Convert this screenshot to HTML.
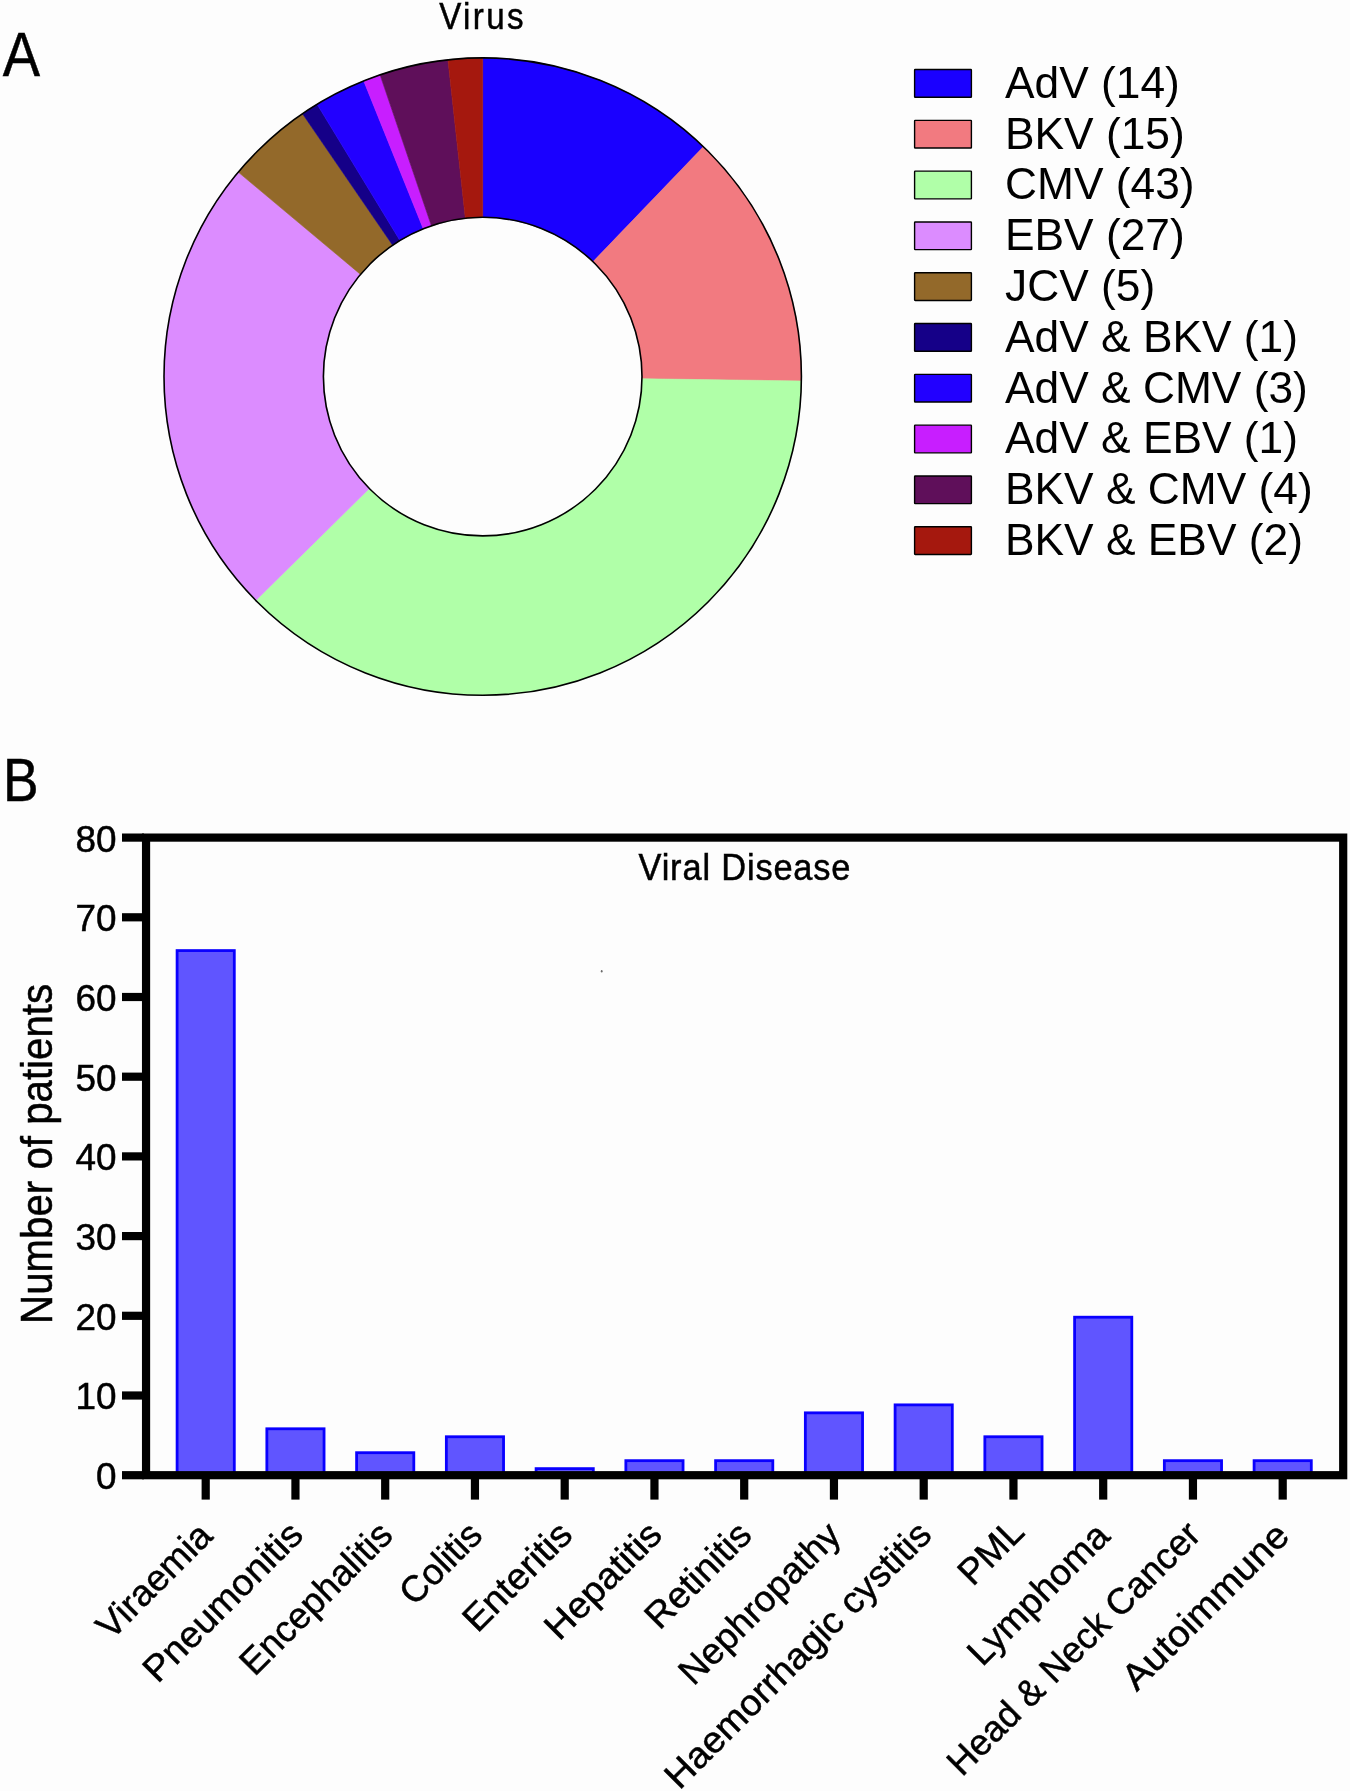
<!DOCTYPE html>
<html><head><meta charset="utf-8"><style>
html,body{margin:0;padding:0;background:#fdfdfd;}
svg{display:block;will-change:transform;}
.a{font-family:"Liberation Sans",sans-serif;}
.c{font-family:"Liberation Sans",sans-serif;stroke:#000;stroke-width:0.5px;}
</style></head><body>
<svg width="1350" height="1791" viewBox="0 0 1350 1791">
<rect width="1350" height="1791" fill="#fdfdfd"/>
<text class="c" font-size="36.8" textLength="93.78" lengthAdjust="spacing" transform="translate(439.2,29.3) scale(0.9,1)">Virus</text>
<text class="c" font-size="63" transform="translate(2.7,76.4) scale(0.888,1)">A</text>
<text class="c" font-size="61.3" transform="translate(3.0,801.1) scale(0.87,1)" >B</text>
<path d="M482.70,57.90A318.7,318.7 0 0 1 703.39,146.68L593.01,261.67A159.3,159.3 0 0 0 482.70,217.30Z" fill="#1a00ff" stroke="#1a00ff" stroke-width="0.6"/>
<path d="M703.39,146.68A318.7,318.7 0 0 1 801.37,380.95L641.99,378.78A159.3,159.3 0 0 0 593.01,261.67Z" fill="#f27a80" stroke="#f27a80" stroke-width="0.6"/>
<path d="M801.37,380.95A318.7,318.7 0 0 1 255.81,600.41L369.29,488.47A159.3,159.3 0 0 0 641.99,378.78Z" fill="#b0ffa8" stroke="#b0ffa8" stroke-width="0.6"/>
<path d="M255.81,600.41A318.7,318.7 0 0 1 238.25,172.11L360.51,274.39A159.3,159.3 0 0 0 369.29,488.47Z" fill="#dc8cff" stroke="#dc8cff" stroke-width="0.6"/>
<path d="M238.25,172.11A318.7,318.7 0 0 1 302.49,113.75L392.62,245.21A159.3,159.3 0 0 0 360.51,274.39Z" fill="#93692a" stroke="#93692a" stroke-width="0.6"/>
<path d="M302.49,113.75A318.7,318.7 0 0 1 317.11,104.30L399.93,240.49A159.3,159.3 0 0 0 392.62,245.21Z" fill="#150088" stroke="#150088" stroke-width="0.6"/>
<path d="M317.11,104.30A318.7,318.7 0 0 1 363.76,80.93L423.25,228.81A159.3,159.3 0 0 0 399.93,240.49Z" fill="#2200ff" stroke="#2200ff" stroke-width="0.6"/>
<path d="M363.76,80.93A318.7,318.7 0 0 1 380.09,74.87L431.41,225.78A159.3,159.3 0 0 0 423.25,228.81Z" fill="#c81eff" stroke="#c81eff" stroke-width="0.6"/>
<path d="M380.09,74.87A318.7,318.7 0 0 1 447.94,59.80L465.33,218.25A159.3,159.3 0 0 0 431.41,225.78Z" fill="#5f0f5a" stroke="#5f0f5a" stroke-width="0.6"/>
<path d="M447.94,59.80A318.7,318.7 0 0 1 482.70,57.90L482.70,217.30A159.3,159.3 0 0 0 465.33,218.25Z" fill="#a5180e" stroke="#a5180e" stroke-width="0.6"/>
<circle cx="482.7" cy="376.6" r="318.7" fill="none" stroke="#000" stroke-width="1.6"/>
<circle cx="482.7" cy="376.6" r="159.3" fill="none" stroke="#000" stroke-width="1.6"/>
<rect x="914.6" y="69.55" width="56.8" height="27.7" rx="0.6" fill="#1a00ff" stroke="#000" stroke-width="1.4"/>
<text x="1005" y="97.70" font-size="44.3" class="a">AdV (14)</text>
<rect x="914.6" y="120.35" width="56.8" height="27.7" rx="0.6" fill="#f27a80" stroke="#000" stroke-width="1.4"/>
<text x="1005" y="148.50" font-size="44.3" class="a">BKV (15)</text>
<rect x="914.6" y="171.15" width="56.8" height="27.7" rx="0.6" fill="#b0ffa8" stroke="#000" stroke-width="1.4"/>
<text x="1005" y="199.30" font-size="44.3" class="a">CMV (43)</text>
<rect x="914.6" y="221.95" width="56.8" height="27.7" rx="0.6" fill="#dc8cff" stroke="#000" stroke-width="1.4"/>
<text x="1005" y="250.10" font-size="44.3" class="a">EBV (27)</text>
<rect x="914.6" y="272.75" width="56.8" height="27.7" rx="0.6" fill="#93692a" stroke="#000" stroke-width="1.4"/>
<text x="1005" y="300.90" font-size="44.3" class="a">JCV (5)</text>
<rect x="914.6" y="323.55" width="56.8" height="27.7" rx="0.6" fill="#150088" stroke="#000" stroke-width="1.4"/>
<text x="1005" y="351.70" font-size="44.3" class="a">AdV &amp; BKV (1)</text>
<rect x="914.6" y="374.35" width="56.8" height="27.7" rx="0.6" fill="#2200ff" stroke="#000" stroke-width="1.4"/>
<text x="1005" y="402.50" font-size="44.3" class="a">AdV &amp; CMV (3)</text>
<rect x="914.6" y="425.15" width="56.8" height="27.7" rx="0.6" fill="#c81eff" stroke="#000" stroke-width="1.4"/>
<text x="1005" y="453.30" font-size="44.3" class="a">AdV &amp; EBV (1)</text>
<rect x="914.6" y="475.95" width="56.8" height="27.7" rx="0.6" fill="#5f0f5a" stroke="#000" stroke-width="1.4"/>
<text x="1005" y="504.10" font-size="44.3" class="a">BKV &amp; CMV (4)</text>
<rect x="914.6" y="526.75" width="56.8" height="27.7" rx="0.6" fill="#a5180e" stroke="#000" stroke-width="1.4"/>
<text x="1005" y="554.90" font-size="44.3" class="a">BKV &amp; EBV (2)</text>
<rect x="177.10" y="950.58" width="57.20" height="525.02" fill="#6055ff" stroke="#0a00ff" stroke-width="2.8"/>
<rect x="201.60" y="1475" width="8.2" height="24.6" fill="#000"/>
<text class="c" font-size="36.8" text-anchor="end" textLength="145.84" lengthAdjust="spacingAndGlyphs" transform="translate(214.33,1537.87) rotate(-45)">Viraemia</text>
<rect x="266.85" y="1428.78" width="57.20" height="46.82" fill="#6055ff" stroke="#0a00ff" stroke-width="2.8"/>
<rect x="291.35" y="1475" width="8.2" height="24.6" fill="#000"/>
<text class="c" font-size="36.8" text-anchor="end" textLength="208.35" lengthAdjust="spacingAndGlyphs" transform="translate(305.07,1536.88) rotate(-45)">Pneumonitis</text>
<rect x="356.60" y="1452.69" width="57.20" height="22.91" fill="#6055ff" stroke="#0a00ff" stroke-width="2.8"/>
<rect x="381.10" y="1475" width="8.2" height="24.6" fill="#000"/>
<text class="c" font-size="36.8" text-anchor="end" textLength="198.32" lengthAdjust="spacingAndGlyphs" transform="translate(394.68,1537.02) rotate(-45)">Encephalitis</text>
<rect x="446.35" y="1436.75" width="57.20" height="38.85" fill="#6055ff" stroke="#0a00ff" stroke-width="2.8"/>
<rect x="470.85" y="1475" width="8.2" height="24.6" fill="#000"/>
<text class="c" font-size="36.8" text-anchor="end" textLength="98.95" lengthAdjust="spacingAndGlyphs" transform="translate(484.29,1537.16) rotate(-45)">Colitis</text>
<rect x="536.10" y="1468.63" width="57.20" height="6.97" fill="#6055ff" stroke="#0a00ff" stroke-width="2.8"/>
<rect x="560.60" y="1475" width="8.2" height="24.6" fill="#000"/>
<text class="c" font-size="36.8" text-anchor="end" textLength="137.31" lengthAdjust="spacingAndGlyphs" transform="translate(574.47,1536.73) rotate(-45)">Enteritis</text>
<rect x="625.85" y="1460.66" width="57.20" height="14.94" fill="#6055ff" stroke="#0a00ff" stroke-width="2.8"/>
<rect x="650.35" y="1475" width="8.2" height="24.6" fill="#000"/>
<text class="c" font-size="36.8" text-anchor="end" textLength="148.15" lengthAdjust="spacingAndGlyphs" transform="translate(664.07,1536.88) rotate(-45)">Hepatitis</text>
<rect x="715.60" y="1460.66" width="57.20" height="14.94" fill="#6055ff" stroke="#0a00ff" stroke-width="2.8"/>
<rect x="740.10" y="1475" width="8.2" height="24.6" fill="#000"/>
<text class="c" font-size="36.8" text-anchor="end" textLength="133.06" lengthAdjust="spacingAndGlyphs" transform="translate(753.68,1537.02) rotate(-45)">Retinitis</text>
<rect x="805.35" y="1412.84" width="57.20" height="62.76" fill="#6055ff" stroke="#0a00ff" stroke-width="2.8"/>
<rect x="829.85" y="1475" width="8.2" height="24.6" fill="#000"/>
<text class="c" font-size="36.8" text-anchor="end" textLength="211.11" lengthAdjust="spacingAndGlyphs" transform="translate(842.87,1537.58) rotate(-45)">Nephropathy</text>
<rect x="895.10" y="1404.87" width="57.20" height="70.73" fill="#6055ff" stroke="#0a00ff" stroke-width="2.8"/>
<rect x="919.60" y="1475" width="8.2" height="24.6" fill="#000"/>
<text class="c" font-size="36.8" text-anchor="end" textLength="359.13" lengthAdjust="spacingAndGlyphs" transform="translate(933.47,1536.73) rotate(-45)">Haemorrhagic cystitis</text>
<rect x="984.85" y="1436.75" width="57.20" height="38.85" fill="#6055ff" stroke="#0a00ff" stroke-width="2.8"/>
<rect x="1009.35" y="1475" width="8.2" height="24.6" fill="#000"/>
<text class="c" font-size="36.8" text-anchor="end" textLength="75.56" lengthAdjust="spacingAndGlyphs" transform="translate(1026.11,1533.84) rotate(-45)">PML</text>
<rect x="1074.60" y="1317.20" width="57.20" height="158.40" fill="#6055ff" stroke="#0a00ff" stroke-width="2.8"/>
<rect x="1099.10" y="1475" width="8.2" height="24.6" fill="#000"/>
<text class="c" font-size="36.8" text-anchor="end" textLength="183.22" lengthAdjust="spacingAndGlyphs" transform="translate(1111.69,1538.01) rotate(-45)">Lymphoma</text>
<rect x="1164.35" y="1460.66" width="57.20" height="14.94" fill="#6055ff" stroke="#0a00ff" stroke-width="2.8"/>
<rect x="1188.85" y="1475" width="8.2" height="24.6" fill="#000"/>
<text class="c" font-size="36.8" text-anchor="end" textLength="340.47" lengthAdjust="spacingAndGlyphs" transform="translate(1202.64,1536.81) rotate(-45)">Head &amp; Neck Cancer</text>
<rect x="1254.10" y="1460.66" width="57.20" height="14.94" fill="#6055ff" stroke="#0a00ff" stroke-width="2.8"/>
<rect x="1278.60" y="1475" width="8.2" height="24.6" fill="#000"/>
<text class="c" font-size="36.8" text-anchor="end" textLength="218.35" lengthAdjust="spacingAndGlyphs" transform="translate(1291.26,1537.94) rotate(-45)">Autoimmune</text>
<rect x="122" y="1471.10" width="22" height="8.2" fill="#000"/>
<text class="c" font-size="36.9" text-anchor="end" x="116.5" y="1489.10">0</text>
<rect x="122" y="1391.40" width="22" height="8.2" fill="#000"/>
<text class="c" font-size="36.9" text-anchor="end" x="116.5" y="1409.40">10</text>
<rect x="122" y="1311.70" width="22" height="8.2" fill="#000"/>
<text class="c" font-size="36.9" text-anchor="end" x="116.5" y="1329.70">20</text>
<rect x="122" y="1232.00" width="22" height="8.2" fill="#000"/>
<text class="c" font-size="36.9" text-anchor="end" x="116.5" y="1250.00">30</text>
<rect x="122" y="1152.30" width="22" height="8.2" fill="#000"/>
<text class="c" font-size="36.9" text-anchor="end" x="116.5" y="1170.30">40</text>
<rect x="122" y="1072.60" width="22" height="8.2" fill="#000"/>
<text class="c" font-size="36.9" text-anchor="end" x="116.5" y="1090.60">50</text>
<rect x="122" y="992.90" width="22" height="8.2" fill="#000"/>
<text class="c" font-size="36.9" text-anchor="end" x="116.5" y="1010.90">60</text>
<rect x="122" y="913.20" width="22" height="8.2" fill="#000"/>
<text class="c" font-size="36.9" text-anchor="end" x="116.5" y="931.20">70</text>
<rect x="122" y="833.50" width="22" height="8.2" fill="#000"/>
<text class="c" font-size="36.9" text-anchor="end" x="116.5" y="851.50">80</text>
<rect x="146.05" y="837.6" width="1197.15" height="637.6" fill="none" stroke="#000" stroke-width="8.2"/>
<ellipse cx="601.7" cy="971.3" rx="0.9" ry="1.3" fill="#6a6a6a"/>
<text class="c" font-size="37" textLength="227.96" lengthAdjust="spacing" transform="translate(638.5,880.4) scale(0.93,1)">Viral Disease</text>
<text class="c" font-size="43.5" textLength="340" lengthAdjust="spacingAndGlyphs" transform="translate(51.6,1323.9) rotate(-90)">Number of patients</text>
</svg>
</body></html>
